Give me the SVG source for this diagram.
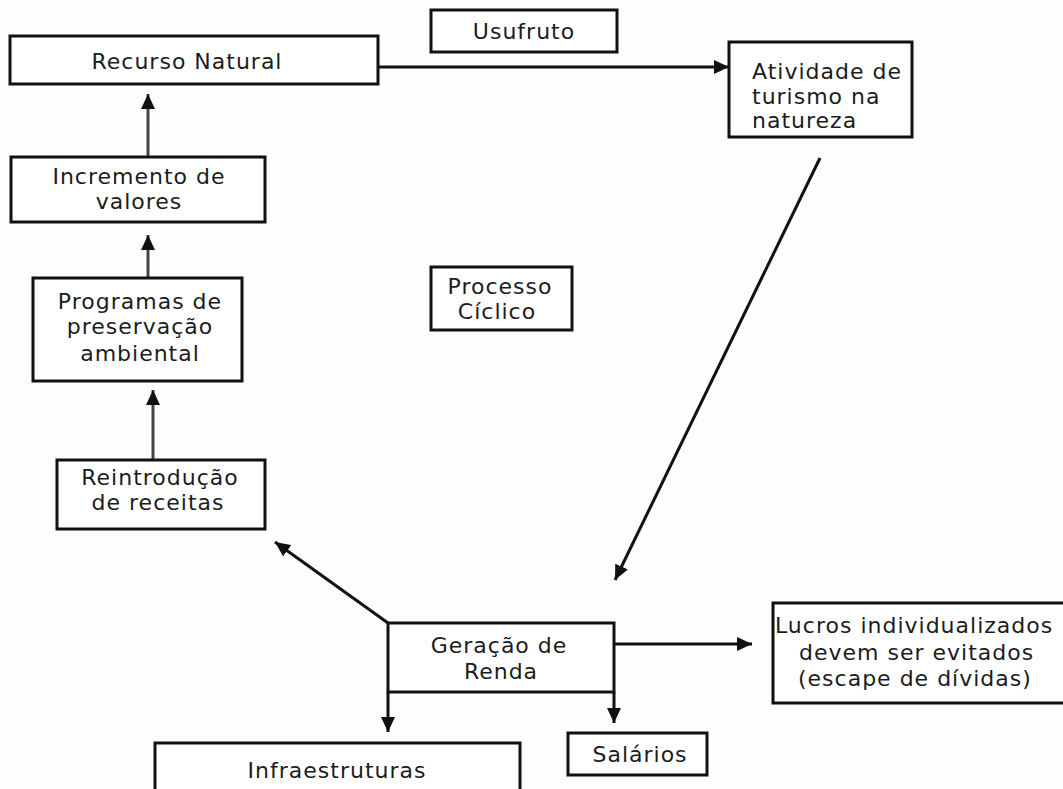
<svg xmlns="http://www.w3.org/2000/svg" width="1063" height="789" viewBox="0 0 1063 789">
<style>
.box{fill:#ffffff;stroke:#111;stroke-width:3}
.t{font-family:"DejaVu Sans","Liberation Sans",sans-serif;font-size:22px;fill:#1c1c1c;letter-spacing:1px}
.c{text-anchor:middle}
.ln{stroke:#111;stroke-width:3;fill:none}
.gr{stroke:#444;stroke-width:3;fill:none}
</style>
<defs>
<marker id="ah" markerUnits="userSpaceOnUse" markerWidth="16" markerHeight="14" refX="15" refY="7" orient="auto">
<path d="M0,0 L15,7 L0,14 z" fill="#111"/>
</marker>
</defs>
<rect width="1063" height="789" fill="#fdfdfd"/>
<g id="connectors">
<line class="ln" x1="378" y1="67" x2="729" y2="67" marker-end="url(#ah)"/>
<line class="gr" x1="148" y1="157" x2="148" y2="94" marker-end="url(#ah)"/>
<line class="gr" x1="148" y1="278" x2="148" y2="235" marker-end="url(#ah)"/>
<line class="gr" x1="153" y1="460" x2="153" y2="390" marker-end="url(#ah)"/>
<line class="ln" x1="820" y1="158" x2="615" y2="580" marker-end="url(#ah)"/>
<line class="ln" x1="388" y1="623" x2="275" y2="542" marker-end="url(#ah)"/>
<line class="ln" x1="614" y1="644" x2="752" y2="644" marker-end="url(#ah)"/>
<line class="ln" x1="388" y1="692" x2="388" y2="732" marker-end="url(#ah)"/>
<line class="ln" x1="614" y1="692" x2="614" y2="723" marker-end="url(#ah)"/>
</g>
<g id="recurso-natural">
<rect class="box" x="10" y="36" width="368" height="48"/>
<text class="t c" x="187" y="69">Recurso Natural</text>
</g>
<g id="usufruto">
<rect class="box" x="431" y="10" width="186" height="42"/>
<text class="t c" x="524" y="39">Usufruto</text>
</g>
<g id="atividade">
<rect class="box" x="729" y="42" width="183" height="95"/>
<text class="t" x="752" y="79">Atividade de</text>
<text class="t" x="752" y="104">turismo na</text>
<text class="t" x="752" y="128">natureza</text>
</g>
<g id="incremento">
<rect class="box" x="11" y="157" width="254" height="65"/>
<text class="t c" x="139" y="184">Incremento de</text>
<text class="t c" x="139" y="209">valores</text>
</g>
<g id="programas">
<rect class="box" x="33" y="278" width="209" height="103"/>
<text class="t c" x="140" y="309">Programas de</text>
<text class="t c" x="140" y="334">preservação</text>
<text class="t c" x="140" y="361">ambiental</text>
</g>
<g id="processo">
<rect class="box" x="431" y="267" width="141" height="63"/>
<text class="t c" x="500" y="294">Processo</text>
<text class="t c" x="497" y="319">Cíclico</text>
</g>
<g id="reintroducao">
<rect class="box" x="57" y="460" width="208" height="69"/>
<text class="t c" x="160" y="485">Reintrodução</text>
<text class="t c" x="158" y="510">de receitas</text>
</g>
<g id="geracao">
<rect class="box" x="388" y="623" width="226" height="69"/>
<text class="t c" x="499" y="653">Geração de</text>
<text class="t c" x="501" y="679">Renda</text>
</g>
<g id="lucros">
<rect class="box" x="773" y="603" width="300" height="100"/>
<text class="t" x="775" y="633">Lucros individualizados</text>
<text class="t" x="799" y="660">devem ser evitados</text>
<text class="t" x="798" y="686">(escape de dívidas)</text>
</g>
<g id="infraestruturas">
<rect class="box" x="155" y="743" width="365" height="60"/>
<text class="t c" x="337" y="778">Infraestruturas</text>
</g>
<g id="salarios">
<rect class="box" x="568" y="733" width="139" height="42"/>
<text class="t c" x="640" y="762">Salários</text>
</g>
</svg>
